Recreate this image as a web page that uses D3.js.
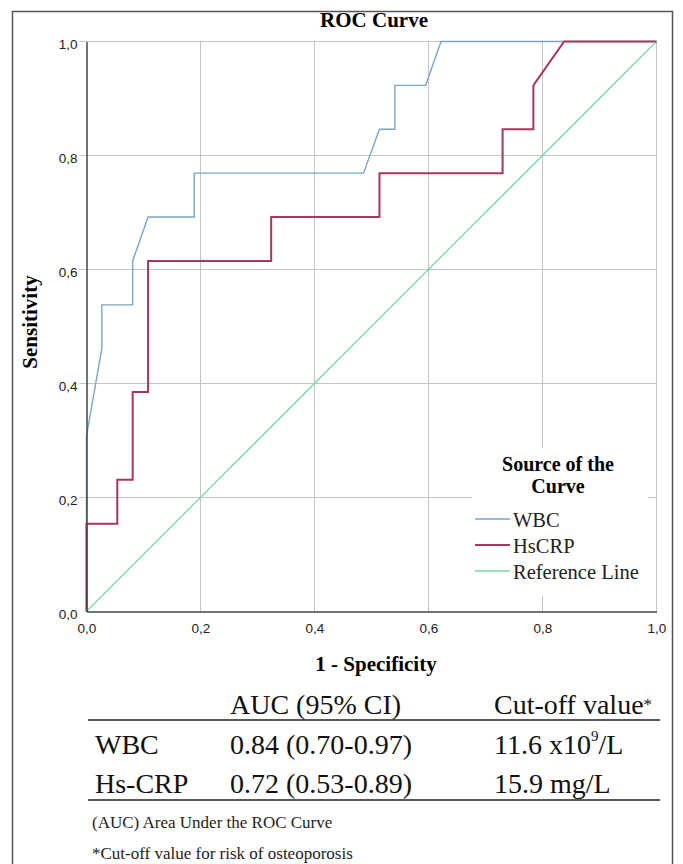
<!DOCTYPE html>
<html>
<head>
<meta charset="utf-8">
<script src="https://cdn.jsdelivr.net/npm/d3@7"></script>
<style>
  body { margin: 0; background: #fff; }
  svg { display: block; }
</style>
</head>
<body>
<svg id="chart" width="683" height="864"></svg>
<script>
// ROC points (1 - specificity, sensitivity)
let wbc_fpr = [0, 0, 0.027, 0.027, 0.081, 0.081, 0.108, 0.189, 0.189, 0.486, 0.514, 0.541, 0.541, 0.595, 0.622, 1];
let wbc_tpr = [0, 0.308, 0.462, 0.538, 0.538, 0.615, 0.692, 0.692, 0.769, 0.769, 0.846, 0.846, 0.923, 0.923, 1, 1];

let crp_fpr = [0, 0, 0.054, 0.054, 0.081, 0.081, 0.108, 0.108, 0.324, 0.324, 0.514, 0.514, 0.730, 0.730, 0.784, 0.784, 0.838, 1];
let crp_tpr = [0, 0.154, 0.154, 0.231, 0.231, 0.385, 0.385, 0.615, 0.615, 0.692, 0.692, 0.769, 0.769, 0.846, 0.846, 0.923, 1, 1];

let ref_fpr = [0, 1];
let ref_tpr = [0, 1];

let tick_values = [0, 0.2, 0.4, 0.6, 0.8, 1.0];

let series_names = ["WBC", "HsCRP", "Reference Line"];
let series_colors = ["#7aa3c6", "#a9365e", "#78d9a4"];

let table_header = ["", "AUC (95% CI)", "Cut-off value*"];
let table_markers = ["WBC", "Hs-CRP"];
let table_auc = ["0.84 (0.70-0.97)", "0.72 (0.53-0.89)"];
let table_cutoff = [["11.6 x10", "9", "/L"], ["15.9 mg/L", "", ""]];
let footnotes = ["(AUC) Area Under the ROC Curve", "*Cut-off value for risk of osteoporosis"];

let serif = "'Liberation Serif', 'Times New Roman', serif",
    sans = "'Liberation Sans', Arial, sans-serif";

let svg = d3.select("#chart");

let plot = {left: 86.5, right: 656.5, top: 41.5, bottom: 611.5};

let x = d3.scaleLinear().domain([0, 1]).range([plot.left, plot.right]),
    y = d3.scaleLinear().domain([0, 1]).range([plot.bottom, plot.top]);

let comma_fmt = d => d3.format(".1f")(d).replace(".", ",");

// outer frame
svg.append("rect")
  .attr("x", 12.5).attr("y", 11.5)
  .attr("width", 660).attr("height", 870)
  .attr("fill", "none")
  .attr("stroke", "#555")
  .attr("stroke-width", 1.5);

// gridlines
let grid = svg.append("g").attr("stroke", "#c4c4c4").attr("stroke-width", 1);
grid.selectAll("line.h")
  .data(tick_values.slice(1)).enter()
  .append("line")
  .attr("x1", plot.left - 7).attr("x2", plot.right)
  .attr("y1", d => y(d)).attr("y2", d => y(d));
grid.selectAll("line.v")
  .data(tick_values.slice(1)).enter()
  .append("line")
  .attr("x1", d => x(d)).attr("x2", d => x(d))
  .attr("y1", plot.top).attr("y2", plot.bottom);

// legend background hides the grid behind it
svg.append("rect")
  .attr("x", 472).attr("y", 448)
  .attr("width", 176).attr("height", 148)
  .attr("fill", "#fff");

// curves
let line = d3.line().x(d => x(d[0])).y(d => y(d[1]));
let curves = [
  {pts: d3.zip(ref_fpr, ref_tpr), color: series_colors[2], width: 1.3},
  {pts: d3.zip(wbc_fpr, wbc_tpr), color: series_colors[0], width: 1.4},
  {pts: d3.zip(crp_fpr, crp_tpr), color: series_colors[1], width: 2}
];
svg.append("g")
  .selectAll("path")
  .data(curves).enter()
  .append("path")
  .attr("d", d => line(d.pts))
  .attr("fill", "none")
  .attr("stroke", d => d.color)
  .attr("stroke-width", d => d.width);

// axes
let x_axis = d3.axisBottom(x).tickValues(tick_values).tickFormat(comma_fmt).tickSize(0).tickPadding(12);
let y_axis = d3.axisLeft(y).tickValues(tick_values).tickFormat(comma_fmt).tickSize(0).tickPadding(9);

let gx = svg.append("g").attr("transform", `translate(0,${plot.bottom})`).call(x_axis);
let gy = svg.append("g").attr("transform", `translate(${plot.left},0)`).call(y_axis);
[gx, gy].forEach(g => {
  g.select(".domain").attr("stroke", "#444").attr("stroke-width", 1.5);
  g.selectAll("text").attr("font-family", sans).attr("font-size", 13.5).attr("fill", "#222");
});
gy.selectAll("text").attr("dy", "0.5em");

// titles
svg.append("text")
  .attr("x", 374).attr("y", 27)
  .attr("text-anchor", "middle")
  .attr("font-family", serif).attr("font-weight", "bold").attr("font-size", 21)
  .text("ROC Curve");
svg.append("text")
  .attr("x", 376).attr("y", 671)
  .attr("text-anchor", "middle")
  .attr("font-family", serif).attr("font-weight", "bold").attr("font-size", 21)
  .text("1 - Specificity");
svg.append("text")
  .attr("transform", "translate(37,322) rotate(-90)")
  .attr("text-anchor", "middle")
  .attr("font-family", serif).attr("font-weight", "bold").attr("font-size", 21)
  .text("Sensitivity");

// legend
let legend = svg.append("g").attr("font-family", serif);
legend.selectAll("text.title")
  .data(["Source of the", "Curve"]).enter()
  .append("text")
  .attr("x", 558).attr("y", (d, i) => 471 + i * 22)
  .attr("text-anchor", "middle")
  .attr("font-weight", "bold").attr("font-size", 20)
  .text(d => d);
let items = legend.selectAll("g.item")
  .data(series_names).enter()
  .append("g")
  .attr("transform", (d, i) => `translate(0,${519 + i * 26})`);
items.append("line")
  .attr("x1", 475).attr("x2", 510)
  .attr("stroke", (d, i) => series_colors[i])
  .attr("stroke-width", (d, i) => i == 1 ? 2 : 1.4);
items.append("text")
  .attr("x", 513).attr("y", 8)
  .attr("font-size", 20.5).attr("fill", "#222")
  .text(d => d);

// table underneath
let table = svg.append("g").attr("font-family", serif).attr("fill", "#111");
let col_x = [95, 230, 494];
let heads = table.selectAll("text.head")
  .data(table_header).enter()
  .append("text")
  .attr("x", (d, i) => col_x[i]).attr("y", 714)
  .attr("font-size", 28);
// the asterisk is set small and raised
heads.append("tspan").text(d => d.replace("*", ""));
heads.append("tspan").attr("font-size", 17).attr("dy", -4).text(d => d.endsWith("*") ? "*" : "");
table.selectAll("line")
  .data([720, 800]).enter()
  .append("line")
  .attr("x1", 88).attr("x2", 660)
  .attr("y1", d => d).attr("y2", d => d)
  .attr("stroke", "#222").attr("stroke-width", 1.5);
let rows = table.selectAll("g.row")
  .data(table_markers).enter()
  .append("g")
  .attr("transform", (d, i) => `translate(0,${754 + i * 39})`);
rows.append("text").attr("x", col_x[0]).attr("font-size", 28).text(d => d);
rows.append("text").attr("x", col_x[1]).attr("font-size", 28).text((d, i) => table_auc[i]);
let cut = rows.append("text").attr("x", col_x[2]).attr("font-size", 28);
cut.append("tspan").text((d, i) => table_cutoff[i][0]);
cut.append("tspan").attr("font-size", 15).attr("dy", -13).text((d, i) => table_cutoff[i][1]);
cut.append("tspan").attr("dy", (d, i) => table_cutoff[i][1] ? 13 : 0).text((d, i) => table_cutoff[i][2]);

table.selectAll("text.note")
  .data(footnotes).enter()
  .append("text")
  .attr("x", 92).attr("y", (d, i) => 828 + i * 31)
  .attr("font-size", 17).attr("fill", "#222")
  .text(d => d);
</script>
</body>
</html>
